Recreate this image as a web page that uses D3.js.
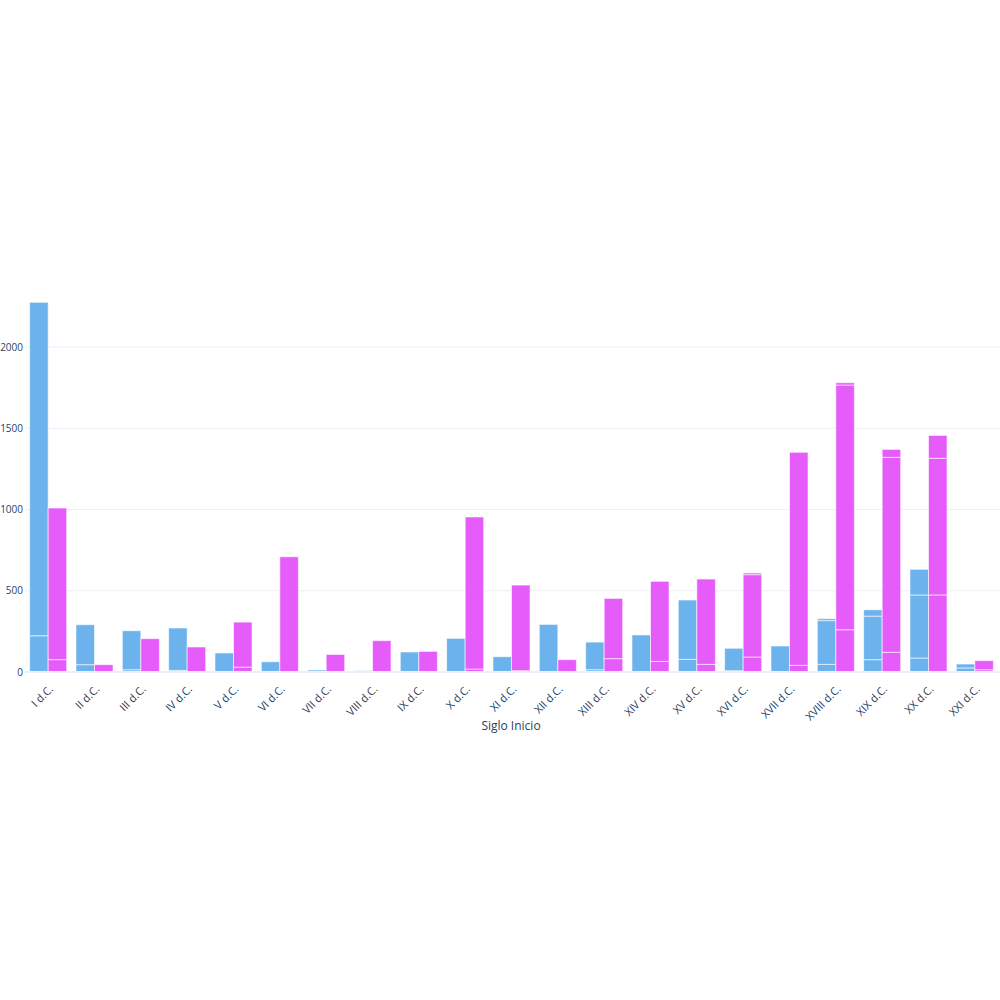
<!DOCTYPE html>
<html>
<head>
<meta charset="utf-8">
<script src="https://cdn.jsdelivr.net/npm/d3@7"></script>
<style>
  body { margin: 0; background: #fff; }
  svg { display: block; font-family: "Open Sans", "Noto Sans", sans-serif; }
</style>
</head>
<body>
<div id="chart"></div>
<script>
// categorias (siglos)
var siglos = ["I d.C.", "II d.C.", "III d.C.", "IV d.C.", "V d.C.", "VI d.C.", "VII d.C.",
  "VIII d.C.", "IX d.C.", "X d.C.", "XI d.C.", "XII d.C.", "XIII d.C.", "XIV d.C.",
  "XV d.C.", "XVI d.C.", "XVII d.C.", "XVIII d.C.", "XIX d.C.", "XX d.C.", "XXI d.C."];

// serie azul, tramos apilados
var azul1 = [223, 45, 14, 10, 117, 63, 12, 8, 123, 207, 94, 293, 14, 228, 78, 8, 160, 47, 76, 86, 25];
var azul2 = [2052, 246, 240, 261, 0, 0, 0, 0, 0, 0, 0, 0, 170, 0, 365, 138, 0, 269, 268, 388, 24];
var azul3 = [0, 0, 0, 0, 0, 0, 0, 0, 0, 0, 0, 0, 0, 0, 0, 0, 0, 12, 39, 158, 0];

// serie magenta, tramos apilados
var magenta1 = [76, 45, 205, 154, 30, 709, 108, 193, 127, 18, 8, 76, 82, 65, 47, 92, 41, 260, 121, 474, 14];
var magenta2 = [933, 0, 0, 0, 277, 0, 0, 0, 0, 936, 527, 0, 371, 493, 525, 507, 1311, 1506, 1200, 841, 56];
var magenta3 = [0, 0, 0, 0, 0, 0, 0, 0, 0, 0, 0, 0, 0, 0, 0, 10, 0, 14, 49, 141, 0];

var yTicks = [0, 500, 1000, 1500, 2000];
var tituloX = "Siglo Inicio";

var svg = d3.select("#chart").append("svg")
  .attr("width", 1000)
  .attr("height", 1000);

var x = d3.scaleBand()
  .domain(siglos)
  .range([25, 998])
  .paddingInner(0.2)
  .paddingOuter(0.1);

var sub = d3.scaleBand()
  .domain(["azul", "magenta"])
  .range([0, x.bandwidth()]);

var y = d3.scaleLinear()
  .domain([0, 2400])
  .range([672, 282]);

// lineas de la rejilla
svg.selectAll(".grid")
  .data(yTicks.slice(1))
  .enter()
  .append("line")
  .attr("class", "grid")
  .attr("x1", 25)
  .attr("x2", 1000)
  .attr("y1", function(d) { return y(d); })
  .attr("y2", function(d) { return y(d); })
  .attr("stroke", "#ebf0f8")
  .attr("stroke-width", 1);

// eje y
var yAxis = svg.append("g")
  .attr("transform", "translate(25,0)")
  .call(d3.axisLeft(y).tickValues(yTicks).tickFormat(d3.format("d")).tickSize(0).tickPadding(2));
yAxis.select(".domain").remove();
yAxis.selectAll("text")
  .attr("fill", "#2a3f5f")
  .attr("font-size", 10)
  .attr("font-family", "\"Open Sans\", sans-serif");

// datos apilados por color
function filas(a, b, c) {
  return siglos.map(function(s, i) { return { siglo: s, t1: a[i], t2: b[i], t3: c[i] }; });
}
var pila = d3.stack().keys(["t1", "t2", "t3"]);
var series = [
  { key: "azul", color: "#6cb2ec", capas: pila(filas(azul1, azul2, azul3)) },
  { key: "magenta", color: "#e55cfa", capas: pila(filas(magenta1, magenta2, magenta3)) }
];

series.forEach(function(s) {
  s.capas.forEach(function(capa) {
    svg.append("g")
      .selectAll("rect")
      .data(capa.filter(function(d) { return d[1] - d[0] > 0; }))
      .enter()
      .append("rect")
      .attr("x", function(d) { return x(d.data.siglo) + sub(s.key); })
      .attr("y", function(d) { return y(d[1]); })
      .attr("width", sub.bandwidth())
      .attr("height", function(d) { return y(d[0]) - y(d[1]); })
      .attr("fill", s.color)
      .attr("stroke", "rgba(255,255,255,0.6)")
      .attr("stroke-width", 1);
  });
});

// linea cero
svg.append("line")
  .attr("x1", 25)
  .attr("x2", 1000)
  .attr("y1", y(0))
  .attr("y2", y(0))
  .attr("stroke", "#ebf0f8")
  .attr("stroke-width", 2);

// etiquetas eje x
svg.append("g")
  .selectAll("text")
  .data(siglos)
  .enter()
  .append("text")
  .attr("transform", function(d) {
    return "translate(" + (x(d) + x.bandwidth() / 2 + 3) + ",687) rotate(-45)";
  })
  .attr("text-anchor", "end")
  .attr("dy", "0.35em")
  .attr("fill", "#2a3f5f")
  .attr("font-size", 11)
  .text(function(d) { return d; });

// titulo eje x
svg.append("text")
  .attr("x", 511)
  .attr("y", 730)
  .attr("text-anchor", "middle")
  .attr("fill", "#2a3f5f")
  .attr("font-size", 12)
  .text(tituloX);
</script>
</body>
</html>
